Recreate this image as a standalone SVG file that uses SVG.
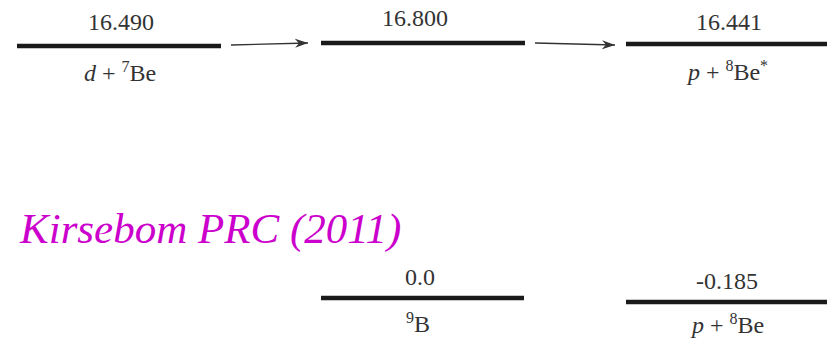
<svg xmlns="http://www.w3.org/2000/svg" width="827" height="340" viewBox="0 0 827 340">
<defs>
<marker id="ah" markerWidth="14" markerHeight="10" refX="13" refY="5" orient="auto" markerUnits="userSpaceOnUse">
<path d="M0,0.5 L13,5 L0,9.5 L4,5 Z" fill="#333"/>
</marker>
<style>
.lvl{stroke:#1a1a1a;stroke-width:4.5}
text{font-family:'Liberation Serif','Times New Roman',serif}
.num{font-size:24px;fill:#333;text-anchor:middle}
.lab{font-size:24px;fill:#333;text-anchor:middle}
.it{font-style:italic}
.sup{font-size:16px}
.conn{stroke:#333;stroke-width:1.3;fill:none}
.title{font-style:italic;font-size:43px;fill:#CC00CC}
</style>
</defs>
<rect width="827" height="340" fill="#fff"/>
<g id="node-d7Be">
<line class="lvl" x1="17" y1="46" x2="221" y2="46"/>
<text class="num" x="121" y="30">16.490</text>
<text class="lab" x="120" y="81"><tspan class="it">d</tspan> + <tspan class="sup" dy="-9">7</tspan><tspan dy="9">Be</tspan></text>
</g>
<g id="node-16800">
<line class="lvl" x1="321" y1="43" x2="525" y2="43"/>
<text class="num" x="415" y="26">16.800</text>
</g>
<g id="node-p8Bestar">
<line class="lvl" x1="626" y1="44" x2="827" y2="44"/>
<text class="num" x="729" y="30">16.441</text>
<text class="lab" x="728" y="80"><tspan class="it">p</tspan> + <tspan class="sup" dy="-9">8</tspan><tspan dy="9">Be</tspan><tspan class="sup" dy="-9">*</tspan></text>
</g>
<g id="node-9B">
<line class="lvl" x1="321" y1="298" x2="524" y2="298"/>
<text class="num" x="420" y="285">0.0</text>
<text class="lab" x="418" y="332"><tspan class="sup" dy="-9">9</tspan><tspan dy="9">B</tspan></text>
</g>
<g id="node-p8Be">
<line class="lvl" x1="626" y1="302" x2="827" y2="302"/>
<text class="num" x="727" y="289">-0.185</text>
<text class="lab" x="728" y="333"><tspan class="it">p</tspan> + <tspan class="sup" dy="-9">8</tspan><tspan dy="9">Be</tspan></text>
</g>
<g id="connectors">
<line class="conn" x1="231" y1="45" x2="308" y2="43" marker-end="url(#ah)"/>
<line class="conn" x1="535" y1="43" x2="615" y2="45" marker-end="url(#ah)"/>
</g>
<text class="title" x="20" y="243">Kirsebom PRC (2011)</text>
</svg>
